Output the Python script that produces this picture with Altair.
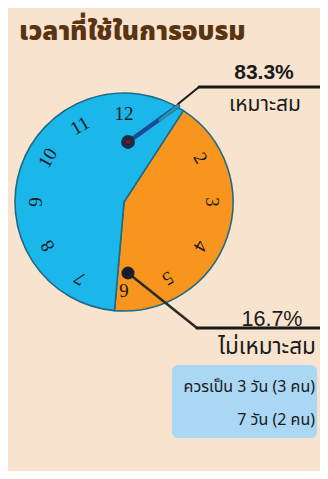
import math
import altair as alt
import pandas as pd

# ---- data ----
title_text = "เวลาที่ใช้ในการอบรม"
slice_names = ["ไม่เหมาะสม", "เหมาะสม"]
slice_labels = ["16.7%", "83.3%"]
# visual share of the clock-face drawn in the picture (degrees of the wedge)
slice_degrees = [152, 208]
slice_start_deg = 33  # where the orange wedge begins, clockwise from 12
clock_hours = [2, 3, 4, 5, 6, 7, 8, 9, 10, 11, 12]
note_lines = ["ควรเป็น 3 วัน (3 คน)", "7 วัน (2 คน)"]

BG = "#f7e3ce"
BLUE = "#1bb6ea"
ORANGE = "#f7951f"
EDGE = "#1f6a84"
BROWN = "#5a3311"
THAI = "Noto Sans Thai, Tahoma, Noto Sans, sans-serif"

O = 8  # page margin offset


def P(v):
    return v - O


CX, CY, R = P(124), P(202), 109

one = alt.Data(values=[{"k": 0}])

pie_df = pd.DataFrame({"name": slice_names, "deg": slice_degrees, "ord": [0, 1]})
a0 = math.radians(slice_start_deg)
pie = alt.Chart(pie_df).mark_arc(
    outerRadius=R, stroke=EDGE, strokeWidth=1.6
).encode(
    x=alt.value(CX), y=alt.value(CY),
    theta=alt.Theta("deg:Q", stack=True, scale=alt.Scale(range=[a0, a0 + 2 * math.pi])),
    color=alt.Color("name:N", scale=alt.Scale(domain=slice_names, range=[ORANGE, BLUE]), legend=None),
    order=alt.Order("ord:Q"),
)

hours_df = pd.DataFrame({"h": clock_hours})
nums = alt.Chart(hours_df).transform_calculate(
    px=f"{CX} + 88*sin(datum.h*PI/6)",
    py=f"{CY} - 88*cos(datum.h*PI/6)",
    rot="(datum.h*30) % 360",
).mark_text(
    font="Liberation Serif", fontSize=19, color="#1a1a1a", baseline="middle", align="center"
).encode(
    x=alt.X("px:Q", scale=None, axis=None),
    y=alt.Y("py:Q", scale=None, axis=None),
    angle=alt.Angle("rot:Q", scale=None),
    text=alt.Text("h:N"),
)


def rule(x1, y1, x2, y2, color, w, dash=None):
    kw = dict(color=color, strokeWidth=w, strokeCap="round")
    if dash:
        kw["strokeDash"] = dash
    return alt.Chart(one).mark_rule(**kw).encode(
        x=alt.value(P(x1)), y=alt.value(P(y1)), x2=alt.value(P(x2)), y2=alt.value(P(y2))
    )


def txt(s, x, y, size, color="#1a1a1a", weight="normal", align="center", font=THAI):
    return alt.Chart(one).mark_text(
        text=s, fontSize=size, color=color, fontWeight=weight,
        align=align, baseline="alphabetic", font=font,
    ).encode(x=alt.value(P(x)), y=alt.value(P(y)))


def dot(x, y, size, color):
    return alt.Chart(one).mark_point(filled=True, size=size, color=color, opacity=1).encode(
        x=alt.value(P(x)), y=alt.value(P(y))
    )


hand1 = rule(128, 142, 178, 106, "#1d4a96", 4.5)
hand1b = rule(160, 120, 178, 106, "#2f8fa8", 3)
lead1 = rule(178, 104, 199, 87, "#1a1a1a", 2)
line1 = rule(199, 87, 330, 87, "#1a1a1a", 3)
lead2 = rule(128, 273, 197, 328, "#2a2a2a", 2.5)
line2 = rule(197, 328, 330, 328, "#1a1a1a", 3)

box = alt.Chart(one).mark_rect(color="#a5d6f6", cornerRadius=6, opacity=0.95).encode(
    x=alt.value(P(172)), x2=alt.value(P(317)), y=alt.value(P(365)), y2=alt.value(P(438))
)

layers = [
    pie, nums, box,
    lead1, line1, hand1, hand1b,
    dot(128, 142, 190, "#1c2a44"), dot(128, 142, 20, "#8a1020"),
    lead2, line2,
    dot(128, 273, 170, "#1e1e26"), dot(128, 273, 25, "#0e1a3a"),
    txt(title_text, 19, 40, 26, BROWN, weight=900, align="left"),
    txt(slice_labels[1], 264, 79, 21, weight="bold", font="Liberation Sans"),
    txt(slice_names[1], 265, 111, 21),
    txt(slice_labels[0], 272, 326, 21.5, font="Liberation Sans"),
    txt(slice_names[0], 267, 354, 22.5),
    txt(note_lines[0], 315, 392, 16, align="right"),
    txt(note_lines[1], 315, 425, 16, align="right"),
]

chart = alt.layer(*layers).properties(
    width=312, height=463, background=BG, padding=0,
    autosize=alt.AutoSizeParams(type="none"),
).configure_view(stroke=None)

chart.save("out.html", embed_options={"renderer": "svg", "actions": False})
